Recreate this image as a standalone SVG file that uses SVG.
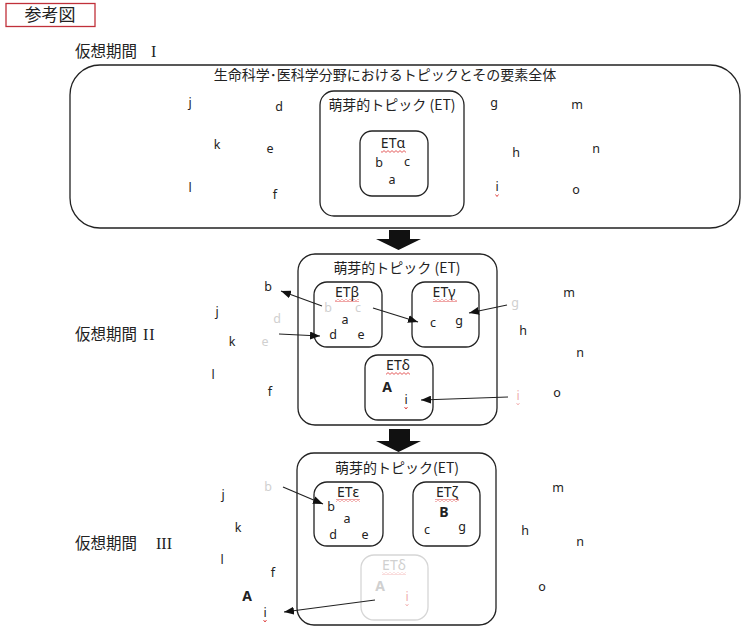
<svg xmlns="http://www.w3.org/2000/svg" width="750" height="636" viewBox="0 0 750 636">
<style>
.box{fill:none;stroke:#222;stroke-width:1.3}
.fbox{fill:none;stroke:#d6d6d6;stroke-width:1.3}
.jp{font-family:"Noto Sans CJK JP",sans-serif;fill:#222}
.rn{font-family:"Liberation Serif",serif;fill:#222}
.lt{font-family:"Noto Sans","Open Sans",sans-serif;font-size:12.5px;fill:#222;text-anchor:middle}
.lb{font-family:"Noto Sans","Open Sans",sans-serif;font-size:14px;fill:#222;text-anchor:middle}
.bd{font-weight:bold;font-size:14px}
.fd{fill:#d0d0d0}
.fr{fill:#f0b0b0}
.sq{fill:url(#wave)}
.sqf{fill:url(#wavef)}
.mk{fill:none;stroke:#d33;stroke-width:0.9}
.mkf{fill:none;stroke:#f2b0b0;stroke-width:0.9}
#connectors line{stroke:#222;stroke-width:1.2;marker-end:url(#ah)}
</style>
<defs>
<marker id="ah" markerUnits="userSpaceOnUse" markerWidth="10" markerHeight="8" refX="10" refY="4" orient="auto">
<path d="M0,0 L10,4 L0,8 z" fill="#111"/>
</marker>
<pattern id="wave" patternUnits="userSpaceOnUse" width="4" height="3">
<path d="M0,0.6 L2,2.4 L4,0.6" fill="none" stroke="#d33" stroke-width="0.8"/>
</pattern>
<pattern id="wavef" patternUnits="userSpaceOnUse" width="4" height="3">
<path d="M0,0.6 L2,2.4 L4,0.6" fill="none" stroke="#f2b0b0" stroke-width="0.8"/>
</pattern>
</defs>
<rect width="750" height="636" fill="#fff"/>

<g id="title">
<rect x="6" y="3.5" width="89" height="23" fill="none" stroke="#c0303a" stroke-width="1.3"/>
<text x="50" y="21" class="jp" font-size="17" text-anchor="middle">参考図</text>
</g>

<!-- Period I -->
<g id="period1-label">
<text x="75" y="57" class="jp" font-size="15.5">仮想期間</text>
<text x="151" y="57" class="rn" font-size="16">I</text>
</g>
<g id="all-topics">
<rect x="70" y="65" width="670" height="163" rx="30" ry="30" class="box"/>
<text x="385" y="80" class="jp" font-size="14" text-anchor="middle">生命科学･医科学分野におけるトピックとその要素全体</text>
</g>
<g id="et1">
<rect x="320" y="91" width="144" height="125" rx="14" class="box"/>
<text x="392" y="110" class="jp" font-size="14" text-anchor="middle">萌芽的トピック (ET)</text>
</g>
<g id="et-alpha">
<rect x="360" y="131" width="68" height="65" rx="12" class="box"/>
<text x="393" y="148" class="lb">ETα</text>
<rect x="381" y="150" width="25" height="3" class="sq"/>
<text x="379" y="167" class="lt">b</text>
<text x="407" y="166" class="lt">c</text>
<text x="392" y="184" class="lt">a</text>
</g>
<g id="elements1">
<text x="190" y="107" class="lt">j</text>
<text x="279" y="111" class="lt">d</text>
<text x="217" y="149" class="lt">k</text>
<text x="270" y="153" class="lt">e</text>
<text x="190" y="192" class="lt">l</text>
<text x="275" y="199" class="lt">f</text>
<text x="494" y="107" class="lt">g</text>
<text x="577" y="109" class="lt">m</text>
<text x="516" y="157" class="lt">h</text>
<text x="596" y="153" class="lt">n</text>
<text x="497" y="191" class="lt">i</text>
<path d="M495.5,194.5 l1.5,2 l1.5,-2" class="mk"/>
<text x="576" y="194" class="lt">o</text>
</g>

<g id="down1">
<polygon points="389,230 410,230 410,239 421,239 398.5,250 376,239 389,239" fill="#111"/>
</g>

<!-- Period II -->
<g id="period2-label">
<text x="75" y="340" class="jp" font-size="15.5">仮想期間</text>
<text x="143" y="340" class="rn" font-size="16" letter-spacing="1">II</text>
</g>
<g id="et2">
<rect x="298" y="254" width="199" height="171" rx="17" class="box"/>
<text x="397" y="273" class="jp" font-size="14" text-anchor="middle">萌芽的トピック (ET)</text>
</g>
<g id="et-beta">
<rect x="314" y="282" width="68" height="65" rx="13" class="box"/>
<text x="347" y="297" class="lb">ETβ</text>
<rect x="335" y="299" width="24" height="3" class="sq"/>
<text x="328" y="312" class="lt fd">b</text>
<text x="358" y="312" class="lt fd">c</text>
<text x="345" y="324" class="lt">a</text>
<text x="333" y="339" class="lt">d</text>
<text x="361" y="339" class="lt">e</text>
</g>
<g id="et-gamma">
<rect x="412" y="282" width="67" height="65" rx="13" class="box"/>
<text x="444" y="297" class="lb">ETγ</text>
<rect x="433" y="299" width="24" height="3" class="sq"/>
<text x="433" y="327" class="lt">c</text>
<text x="459" y="325" class="lt">g</text>
</g>
<g id="et-delta">
<rect x="365" y="355" width="68" height="65" rx="13" class="box"/>
<text x="398" y="370" class="lb">ETδ</text>
<rect x="386" y="372" width="24" height="3" class="sq"/>
<text x="387" y="392" class="lt bd">A</text>
<text x="406" y="404" class="lt">i</text>
<path d="M404.5,407 l1.5,2 l1.5,-2" class="mk"/>
</g>
<g id="elements2">
<text x="268" y="291" class="lt">b</text>
<text x="217" y="316" class="lt">j</text>
<text x="277" y="323" class="lt fd">d</text>
<text x="232" y="346" class="lt">k</text>
<text x="265" y="346" class="lt fd">e</text>
<text x="213" y="379" class="lt">l</text>
<text x="270" y="396" class="lt">f</text>
<text x="515" y="307" class="lt fd">g</text>
<text x="569" y="297" class="lt">m</text>
<text x="523" y="335" class="lt">h</text>
<text x="580" y="357" class="lt">n</text>
<text x="518" y="400" class="lt fr">i</text>
<path d="M516.5,403 l1.5,2 l1.5,-2" class="mkf"/>
<text x="557" y="397" class="lt">o</text>
</g>

<g id="down2">
<polygon points="389,429 410,429 410,441 421,441 398.5,452 376,441 389,441" fill="#111"/>
</g>

<!-- Period III -->
<g id="period3-label">
<text x="75" y="549" class="jp" font-size="15.5">仮想期間</text>
<text x="156" y="549" class="rn" font-size="16">III</text>
</g>
<g id="et3">
<rect x="297" y="453" width="199" height="172" rx="17" class="box"/>
<text x="397" y="473" class="jp" font-size="14" text-anchor="middle">萌芽的トピック(ET)</text>
</g>
<g id="et-epsilon">
<rect x="314" y="482" width="69" height="64" rx="13" class="box"/>
<text x="348" y="497" class="lb">ETε</text>
<rect x="336" y="499" width="24" height="3" class="sq"/>
<text x="331" y="511" class="lt">b</text>
<text x="347" y="523" class="lt">a</text>
<text x="333" y="539" class="lt">d</text>
<text x="365" y="539" class="lt">e</text>
</g>
<g id="et-zeta">
<rect x="413" y="482" width="67" height="64" rx="13" class="box"/>
<text x="447" y="497" class="lb">ETζ</text>
<rect x="435" y="499" width="24" height="3" class="sq"/>
<text x="444" y="517" class="lt bd">B</text>
<text x="427" y="534" class="lt">c</text>
<text x="462" y="531" class="lt">g</text>
</g>
<g id="et-delta-old">
<rect x="361" y="555" width="67" height="65" rx="13" class="fbox"/>
<text x="394" y="570" class="lb fd">ETδ</text>
<rect x="382" y="572" width="24" height="3" class="sqf"/>
<text x="380" y="591" class="lt bd fd">A</text>
<text x="407" y="601" class="lt fr">i</text>
<path d="M405.5,604 l1.5,2 l1.5,-2" class="mkf"/>
</g>
<g id="elements3">
<text x="268" y="491" class="lt fd">b</text>
<text x="223" y="499" class="lt">j</text>
<text x="238" y="532" class="lt">k</text>
<text x="222" y="564" class="lt">l</text>
<text x="273" y="577" class="lt">f</text>
<text x="247" y="601" class="lt bd">A</text>
<text x="265" y="617" class="lt">i</text>
<path d="M263.5,620 l1.5,2 l1.5,-2" class="mk"/>
<text x="558" y="492" class="lt">m</text>
<text x="525" y="535" class="lt">h</text>
<text x="580" y="546" class="lt">n</text>
<text x="542" y="591" class="lt">o</text>
</g>

<g id="connectors">
<line x1="322" y1="306" x2="281" y2="291"/>
<line x1="373" y1="308" x2="418" y2="322"/>
<line x1="279" y1="334" x2="320" y2="336"/>
<line x1="507" y1="305" x2="469" y2="313"/>
<line x1="508" y1="397" x2="421" y2="400"/>
<line x1="283" y1="487" x2="323" y2="504"/>
<line x1="375" y1="600" x2="284" y2="612"/>
</g>
</svg>
